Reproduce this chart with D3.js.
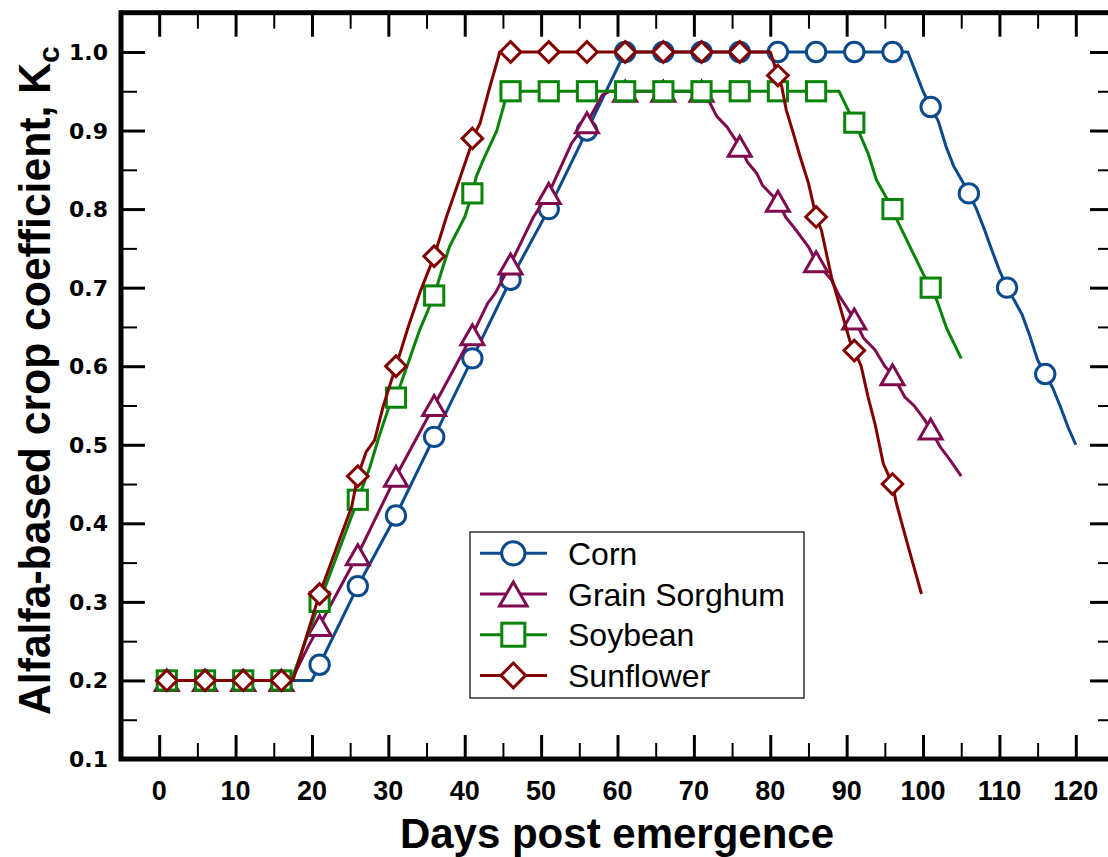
<!DOCTYPE html>
<html>
<head>
<meta charset="utf-8">
<script src="https://cdn.jsdelivr.net/npm/d3@7"></script>
<style>
  html, body { margin: 0; padding: 0; background: #fff; }
  svg { display: block; }
</style>
</head>
<body>
<svg id="chart" width="1108" height="857"></svg>
<script>
// ---------------- DATA ----------------
const seriesNames = ["Corn", "Grain Sorghum", "Soybean", "Sunflower"];
const seriesColors = ["#0b4a8b", "#800a50", "#0a830a", "#820000"];
const seriesSymbols = ["circle", "triangle", "square", "diamond"];

const xTicksMajor = [0, 10, 20, 30, 40, 50, 60, 70, 80, 90, 100, 110, 120];
const yTicksMajor = [0.1, 0.2, 0.3, 0.4, 0.5, 0.6, 0.7, 0.8, 0.9, 1.0];
const xTickLabels = ["0","10","20","30","40","50","60","70","80","90","100","110","120"];
const yTickLabels = ["0.1","0.2","0.3","0.4","0.5","0.6","0.7","0.8","0.9","1.0"];

// Marker days (every 5 days from day 1)
const cornMarkerDays = [1,6,11,16,21,26,31,36,41,46,51,56,61,66,71,76,81,86,91,96,101,106,111,116];
const cornMarkerVals = [0.2,0.2,0.2,0.2,0.22,0.32,0.41,0.51,0.61,0.71,0.80,0.90,1.0,1.0,1.0,1.0,1.0,1.0,1.0,1.0,0.93,0.82,0.70,0.59];

const sorghumMarkerDays = [1,6,11,16,21,26,31,36,41,46,51,56,61,66,71,76,81,86,91,96,101];
const sorghumMarkerVals = [0.2,0.2,0.2,0.2,0.27,0.36,0.46,0.55,0.64,0.73,0.82,0.91,0.95,0.95,0.95,0.88,0.81,0.733,0.66,0.589,0.52];

const soyMarkerDays = [1,6,11,16,21,26,31,36,41,46,51,56,61,66,71,76,81,86,91,96,101];
const soyMarkerVals = [0.2,0.2,0.2,0.2,0.30,0.43,0.56,0.69,0.82,0.95,0.95,0.95,0.95,0.95,0.95,0.95,0.95,0.95,0.91,0.80,0.70];

const sunMarkerDays = [1,6,11,16,21,26,31,36,41,46,51,56,61,66,71,76,81,86,91,96];
const sunMarkerVals = [0.2,0.2,0.2,0.2,0.31,0.46,0.60,0.74,0.89,1.0,1.0,1.0,1.0,1.0,1.0,1.0,0.97,0.79,0.62,0.45];

// Line traces [day, Kc]
const cornLine = [[1,0.2],[20,0.2],[21,0.22],[26,0.32],[31,0.41],[36,0.51],[41,0.61],[46,0.71],[51,0.80],[56,0.90],[61,1.0],
  [98,1.0],[99,0.975],[100,0.95],[101,0.93],[102,0.912],[103,0.88],[104,0.855],[105,0.838],[106,0.82],[107,0.80],[108,0.775],
  [109,0.748],[110,0.722],[111,0.70],[112,0.683],[113,0.665],[114,0.638],[115,0.608],[116,0.59],[117,0.572],[118,0.548],[119,0.522],[120,0.50]];

const sorghumLine = [[1,0.2],[17.3,0.2],[19.5,0.243],[21,0.27],[26,0.36],[31,0.46],[36,0.55],[41,0.64],[43,0.68],[44,0.693],[46,0.73],
  [49,0.79],[51,0.82],[54,0.884],[56,0.91],[58,0.945],[59,0.95],[71,0.95],[72,0.937],[73,0.918],[74.3,0.905],[76,0.88],[77,0.86],
  [78.2,0.846],[79,0.83],[81,0.81],[82,0.79],[83.4,0.773],[85,0.752],[86,0.733],[88,0.71],[89,0.69],[90,0.675],[91,0.66],[92.2,0.636],
  [93.7,0.621],[95,0.60],[96,0.589],[97.6,0.561],[98.9,0.549],[100.2,0.532],[101,0.519],[102.2,0.498],[103.5,0.481],[105,0.46]];

const soyLine = [[1,0.2],[17.3,0.2],[21,0.30],[26,0.43],[27.6,0.472],[28.7,0.508],[30,0.546],[31,0.56],[34.1,0.646],[36,0.69],
  [37,0.722],[38,0.752],[40,0.79],[41,0.82],[41.5,0.841],[42.4,0.862],[44.2,0.90],[45.2,0.935],[46,0.95],[89,0.95],[90.2,0.926],
  [91,0.91],[91.7,0.896],[92.8,0.871],[93.9,0.837],[95,0.818],[96,0.80],[96.7,0.784],[98.3,0.752],[100.1,0.716],[101,0.70],
  [101.8,0.684],[103.1,0.648],[105,0.61]];

const sunLine = [[1,0.2],[17.5,0.2],[21,0.31],[23.6,0.379],[25.2,0.421],[26,0.46],[27.1,0.491],[28.2,0.506],[29.3,0.548],[30.4,0.582],
  [31,0.60],[32.6,0.65],[34.1,0.693],[36,0.74],[37.6,0.79],[39.6,0.846],[40.7,0.877],[41,0.89],[42,0.909],[43.3,0.956],[44.6,1.0],
  [80,1.0],[81,0.97],[81.5,0.956],[82.1,0.926],[83,0.897],[83.9,0.867],[85,0.833],[85.4,0.816],[86,0.79],[86.7,0.773],[88,0.714],
  [90.4,0.633],[91,0.62],[91.9,0.60],[92.8,0.561],[93.7,0.527],[94.8,0.476],[96,0.45],[96.5,0.426],[97.5,0.39],[98.5,0.355],[99.8,0.31]];

// ---------------- CHART ----------------
const svg = d3.select("#chart");
const x = d3.scaleLinear().domain([-5, 125]).range([121, 1114]);
const y = d3.scaleLinear().domain([0.1, 1.05]).range([759, 12.7]);

const series = [
  { name: seriesNames[0], color: seriesColors[0], sym: seriesSymbols[0], line: cornLine, mDays: cornMarkerDays, mVals: cornMarkerVals },
  { name: seriesNames[1], color: seriesColors[1], sym: seriesSymbols[1], line: sorghumLine, mDays: sorghumMarkerDays, mVals: sorghumMarkerVals },
  { name: seriesNames[2], color: seriesColors[2], sym: seriesSymbols[2], line: soyLine, mDays: soyMarkerDays, mVals: soyMarkerVals },
  { name: seriesNames[3], color: seriesColors[3], sym: seriesSymbols[3], line: sunLine, mDays: sunMarkerDays, mVals: sunMarkerVals }
];

const xMinor = d3.range(-5, 126, 5).filter(v => v % 10 !== 0);
const yMinor = d3.range(0.15, 1.05, 0.1);

// ticks via d3 axes (inward)
function styleAxis(g, w) {
  g.select(".domain").remove();
  g.selectAll(".tick line").attr("stroke", "#000").attr("stroke-width", w);
  g.selectAll(".tick text").remove();
}
svg.append("g").attr("transform", "translate(0,759)")
  .call(d3.axisBottom(x).tickValues(xTicksMajor).tickSize(-24)).call(g => styleAxis(g, 3));
svg.append("g").attr("transform", "translate(0,759)")
  .call(d3.axisBottom(x).tickValues(xMinor).tickSize(-16)).call(g => styleAxis(g, 2));
svg.append("g").attr("transform", "translate(0,12.7)")
  .call(d3.axisTop(x).tickValues(xTicksMajor).tickSize(-24)).call(g => styleAxis(g, 3));
svg.append("g").attr("transform", "translate(0,12.7)")
  .call(d3.axisTop(x).tickValues(xMinor).tickSize(-16)).call(g => styleAxis(g, 2));
svg.append("g").attr("transform", "translate(121,0)")
  .call(d3.axisLeft(y).tickValues(yTicksMajor).tickSize(-24)).call(g => styleAxis(g, 3));
svg.append("g").attr("transform", "translate(121,0)")
  .call(d3.axisLeft(y).tickValues(yMinor).tickSize(-16)).call(g => styleAxis(g, 2));
svg.append("g").attr("transform", "translate(1114,0)")
  .call(d3.axisRight(y).tickValues(yTicksMajor).tickSize(-24)).call(g => styleAxis(g, 3));
svg.append("g").attr("transform", "translate(1114,0)")
  .call(d3.axisRight(y).tickValues(yMinor).tickSize(-16)).call(g => styleAxis(g, 2));

// frame
svg.append("rect").attr("x", 121).attr("y", 12.7).attr("width", 993).attr("height", 746.3)
  .attr("fill", "none").attr("stroke", "#000").attr("stroke-width", 5);

// tick labels
svg.append("g").selectAll("text").data(xTicksMajor).join("text")
  .attr("x", d => x(d)).attr("y", 800)
  .attr("text-anchor", "middle")
  .attr("font-family", "'Liberation Sans', Arial, sans-serif").attr("font-weight", "bold")
  .attr("font-size", 27).text((d, i) => xTickLabels[i]);

svg.append("g").selectAll("text").data(yTicksMajor).join("text")
  .attr("x", 108).attr("y", d => y(d) + 8)
  .attr("text-anchor", "end")
  .attr("font-family", "'DejaVu Sans', sans-serif").attr("font-weight", "bold")
  .attr("font-size", 22).text((d, i) => yTickLabels[i]);

// axis titles
svg.append("text").attr("x", 617).attr("y", 848).attr("text-anchor", "middle")
  .attr("font-family", "'Liberation Sans', Arial, sans-serif").attr("font-weight", "bold")
  .attr("font-size", 42).text("Days post emergence");

const yt = svg.append("text").attr("transform", "translate(50,715) rotate(-90)")
  .attr("font-family", "'Liberation Sans', Arial, sans-serif").attr("font-weight", "bold");
yt.append("tspan").attr("font-size", 44).attr("textLength", 652).attr("lengthAdjust", "spacingAndGlyphs")
  .text("Alfalfa-based crop coefficient, K");
yt.append("tspan").attr("font-size", 30).attr("dy", 9).text("c");

// symbol drawing
function drawSymbol(g, sym, cx, cy, color, s) {
  if (sym === "circle") {
    g.append("circle").attr("cx", cx).attr("cy", cy).attr("r", 9.7 * s);
  } else if (sym === "square") {
    const h = 9.6 * s;
    g.append("rect").attr("x", cx - h).attr("y", cy - h).attr("width", 2 * h).attr("height", 2 * h);
  } else if (sym === "diamond") {
    const h = 10.3 * s;
    g.append("path").attr("d", `M${cx},${cy - h}L${cx + h},${cy}L${cx},${cy + h}L${cx - h},${cy}Z`);
  } else if (sym === "triangle") {
    const w = 11.5 * s, hh = 10 * s;
    g.append("path").attr("d", `M${cx},${cy - hh}L${cx + w},${cy + hh}L${cx - w},${cy + hh}Z`);
  }
  g.selectAll("*").attr("fill", "#fff").attr("stroke", color).attr("stroke-width", 3);
}

const lineGen = d3.line().x(d => x(d[0])).y(d => y(d[1]));

series.forEach(s => {
  const g = svg.append("g");
  g.append("path").datum(s.line).attr("d", lineGen)
    .attr("fill", "none").attr("stroke", s.color).attr("stroke-width", 3)
    .attr("stroke-linejoin", "round");
  s.mDays.forEach((d, i) => {
    drawSymbol(g.append("g"), s.sym, x(d), y(s.mVals[i]), s.color, 1);
  });
});

// legend
const lg = svg.append("g");
lg.append("rect").attr("x", 470).attr("y", 532).attr("width", 334).attr("height", 166)
  .attr("fill", "#fff").attr("stroke", "#333").attr("stroke-width", 1.5);
series.forEach((s, i) => {
  const cy = 553.3 + i * 40.7;
  lg.append("line").attr("x1", 480).attr("x2", 547).attr("y1", cy).attr("y2", cy)
    .attr("stroke", s.color).attr("stroke-width", 3);
  drawSymbol(lg.append("g"), s.sym, 513.3, cy, s.color, 1.2);
  lg.append("text").attr("x", 568).attr("y", cy + 11.5)
    .attr("font-family", "'Liberation Sans', Arial, sans-serif").attr("font-size", 32)
    .attr("fill", "#000").text(s.name);
});
</script>
</body>
</html>
